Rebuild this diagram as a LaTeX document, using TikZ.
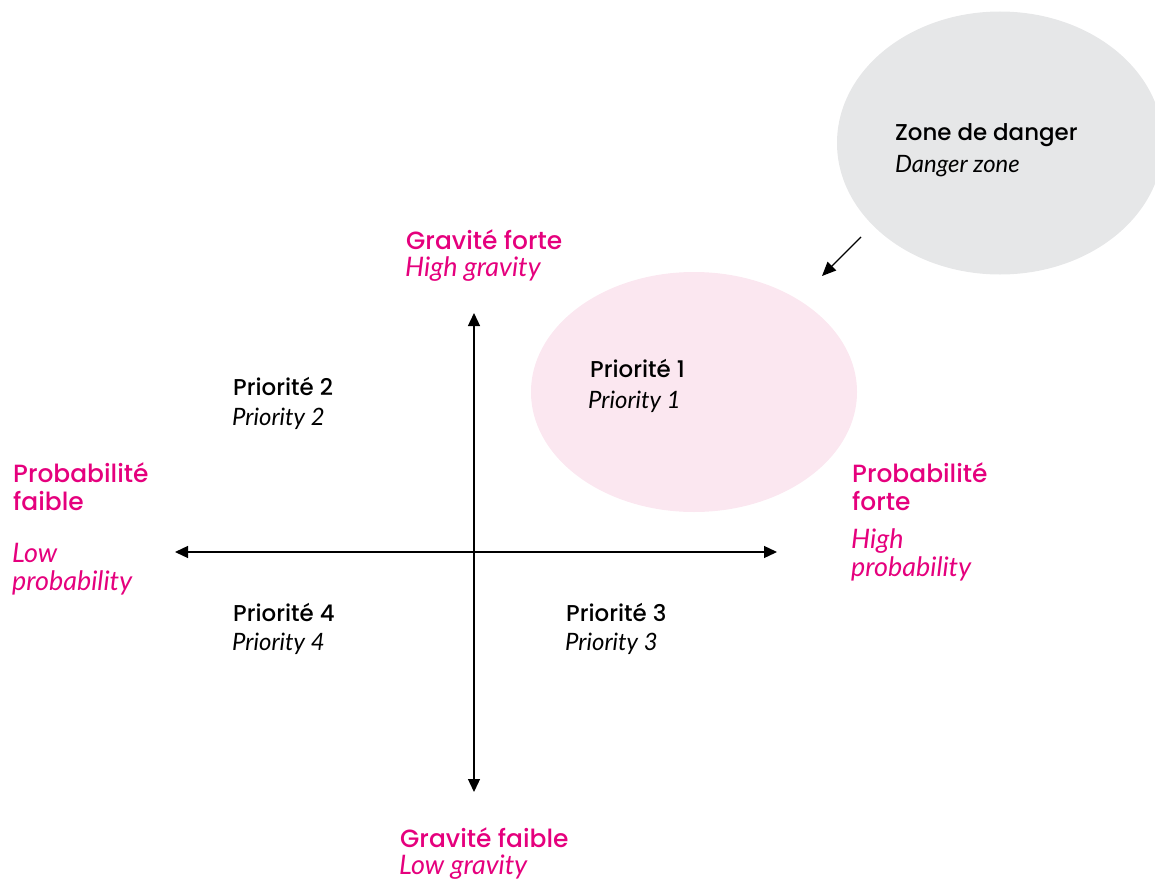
\documentclass[tikz,border=0pt]{standalone}
\usepackage{fontspec}
\setmainfont{Poppins}[UprightFont={* Medium}]
\newfontfamily\itfont{Lato}
\usetikzlibrary{arrows.meta,shapes.geometric}
\definecolor{mag}{HTML}{E5007D}
\definecolor{pinkfill}{HTML}{FBE7F0}
\definecolor{greyfill}{HTML}{E6E7E8}
\begin{document}
\begin{tikzpicture}[x=1bp,y=-1bp,
  hd/.style={anchor=base west, inner sep=0pt, font=\fontsize{23}{26}\selectfont},
  itx/.style={anchor=base west, inner sep=0pt, font=\itfont\itshape\fontsize{24}{26}\selectfont},
  mhd/.style={hd, text=mag, font=\fontsize{25}{28}\selectfont},
  mit/.style={itx, text=mag, font=\itfont\itshape\fontsize{27}{28}\selectfont},
  axis/.style={line width=1.3bp, {Triangle[length=13bp,width=12bp]}-{Triangle[length=13bp,width=12bp]}},
  pointer/.style={line width=1.3bp, -{Triangle[length=14bp,width=12bp]}},
  zone/.style={ellipse, draw=none, inner sep=0pt}
]
\useasboundingbox (0,0) rectangle (1155,880);
\clip (0,0) rectangle (1155,880);
% ellipses
\node[zone, fill=greyfill, minimum width=326bp, minimum height=263bp] (danger) at (1000,143) {};
\node[zone, fill=pinkfill, minimum width=326bp, minimum height=240bp] (p1zone) at (694,392) {};
% axes
\coordinate (top) at (474,313);
\coordinate (bottom) at (474,792);
\coordinate (left) at (175,552);
\coordinate (right) at (777,552);
\draw[axis] (bottom) -- (top);
\draw[axis] (left) -- (right);
% pointer
\coordinate (ps) at (861,237);
\coordinate (pe) at (822,276);
\draw[pointer] (ps) -- (pe);
% texts
\node[hd] (zd) at (895,140) {Zone de danger};
\node[itx] (dz) at (895,172) {Danger zone};
\node[mhd] (gf) at (406,249) {Gravité forte};
\node[mit] (hg) at (405,276) {High gravity};
\node[hd] (p1) at (590,377) {Priorité 1};
\node[itx] (e1) at (588,408) {Priority 1};
\node[hd] (p2) at (233,395) {Priorité 2};
\node[itx] (e2) at (232,425) {Priority 2};
\node[hd] (p4) at (233,621) {Priorité 4};
\node[itx] (e4) at (232,650) {Priority 4};
\node[hd] (p3) at (566,621) {Priorité 3};
\node[itx] (e3) at (565,650) {Priority 3};
\node[mhd] (pfa) at (13,482) {Probabilité};
\node[mhd] (pfb) at (13,510) {faible};
\node[mit] (lpa) at (12,562) {Low};
\node[mit] (lpb) at (12,590) {probability};
\node[mhd] (pha) at (852,482) {Probabilité};
\node[mhd] (phb) at (852,510) {forte};
\node[mit] (hpa) at (851,548) {High};
\node[mit] (hpb) at (851,576) {probability};
\node[mhd] (gfa) at (400,847) {Gravité faible};
\node[mit] (lg) at (399,874) {Low gravity};
\end{tikzpicture}
\end{document}
